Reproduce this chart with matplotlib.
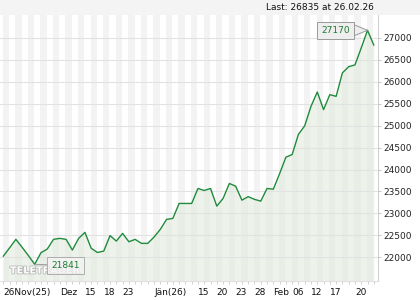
import matplotlib
matplotlib.use("Agg")
import matplotlib.pyplot as plt
from matplotlib.patches import Rectangle
import matplotlib.patheffects as pe

plt.rcParams['font.family'] = ['DejaVu Sans']

values = [22027, 22215, 22409, 22228, 22040, 21841, 22105, 22189, 22409, 22432,
          22409, 22166, 22432, 22568, 22205, 22110, 22143, 22495, 22370, 22545,
          22355, 22409, 22318, 22318, 22461, 22636, 22864, 22886, 23227, 23227,
          23227, 23568, 23523, 23568, 23166, 23341, 23682, 23620, 23302, 23382,
          23320, 23280, 23568, 23552, 23905, 24280, 24341, 24802, 24995, 25439,
          25764, 25364, 25705, 25666, 26200, 26341, 26382, 26768, 27170, 26835]
x_labels = ["26Nov(25)", "Dez", "15", "18", "23", "Jän(26)", "15", "20", "23",
            "28", "Feb", "06", "12", "17", "20"]
x_label_idx = [0, 9, 13, 16, 19, 24, 31, 34, 37, 40, 43, 46, 49, 52, 56]
y_ticks = [22000, 22500, 23000, 23500, 24000, 24500, 25000, 25500, 26000, 26500, 27000]
last_text = "Last: 26835 at 26.02.26"
max_idx, min_idx = 58, 5

W, H = 420, 300
fig = plt.figure(figsize=(W / 100, H / 100), dpi=100)
fig.patch.set_facecolor('white')
fig.patches.append(Rectangle((0, 1 - 14.5 / H), 1, 14.5 / H, transform=fig.transFigure,
                             facecolor='#f4f4f4', edgecolor='none', zorder=0))
fig.text(374 / W, 1 - 7.5 / H, last_text, ha='right', va='center', fontsize=6.5, color='#111111')

ax = fig.add_axes([0, 19 / H, 378 / W, (281 - 14.5) / H])
n = len(values)
xs = list(range(n))
ax.set_xlim(-0.525, 59.67)
ax.set_ylim(21461, 27530)
ax.set_facecolor('white')

for k in range(0, n + 1, 2):
    ax.axvspan(k - 0.1, k + 0.9, color='#f3f3f3', lw=0, zorder=0)
for yv in y_ticks:
    ax.axhline(yv, color='#e2e2e2', lw=0.8, zorder=2)

ax.fill_between(xs, values, 21461, color='#dfeadb', alpha=0.55, lw=0, zorder=1)
ax.plot(xs, values, color='#1f8b3b', lw=1.0, zorder=3)

# annotations
ax.annotate(str(values[max_idx]), xy=(max_idx, values[max_idx]), xytext=(-32, 0),
            textcoords='offset pixels', ha='center', va='center', fontsize=6.5,
            color='#1f7a34', zorder=5,
            bbox=dict(boxstyle='square,pad=0.45', fc='#eeeeee', ec='#9a9a9a', lw=0.7),
            arrowprops=dict(arrowstyle='wedge,tail_width=1.2,shrink_factor=0.5', fc='#eeeeee',
                            ec='#9a9a9a', lw=0.7, shrinkA=0, shrinkB=0))
ax.annotate(str(values[min_idx]), xy=(min_idx, values[min_idx]), xytext=(31, -1),
            textcoords='offset pixels', ha='center', va='center', fontsize=6.5,
            color='#1f7a34', zorder=5,
            bbox=dict(boxstyle='square,pad=0.45', fc='#f4f4f4', ec='#9a9a9a', lw=0.7, alpha=0.75),
            arrowprops=dict(arrowstyle='-', color='#9a9a9a', lw=0.7, shrinkA=0, shrinkB=0))

ax.text(10 / 378, (281 - 270.5) / (281 - 14.5), "TELETRADER", transform=ax.transAxes,
        fontsize=7, fontweight='bold', color='white', ha='left', va='center', zorder=4,
        path_effects=[pe.withStroke(linewidth=1.2, foreground='#b8b8b8')])

# axes styling
for s in ['top', 'left']:
    ax.spines[s].set_visible(False)
ax.spines['right'].set_color('#d0d0d0')
ax.spines['bottom'].set_color('#e0e0e0')
ax.spines['right'].set_linewidth(0.8)
ax.spines['bottom'].set_linewidth(0.8)

ax.yaxis.tick_right()
ax.set_yticks(y_ticks)
ax.set_yticklabels([str(v) for v in y_ticks])
ax.tick_params(axis='y', length=2.5, width=0.7, color='#c8c8c8', labelsize=6.5,
               labelcolor='#222222', pad=1)

ax.set_xticks(xs, minor=True)
ax.set_xticks(x_label_idx)
ax.set_xticklabels(x_labels, ha='left')
ax.tick_params(axis='x', which='both', length=2.5, width=0.7, color='#d0d0d0',
               labelsize=6.5, labelcolor='#111111', pad=2.5)

fig.savefig('out.png', dpi=100, facecolor='white')
